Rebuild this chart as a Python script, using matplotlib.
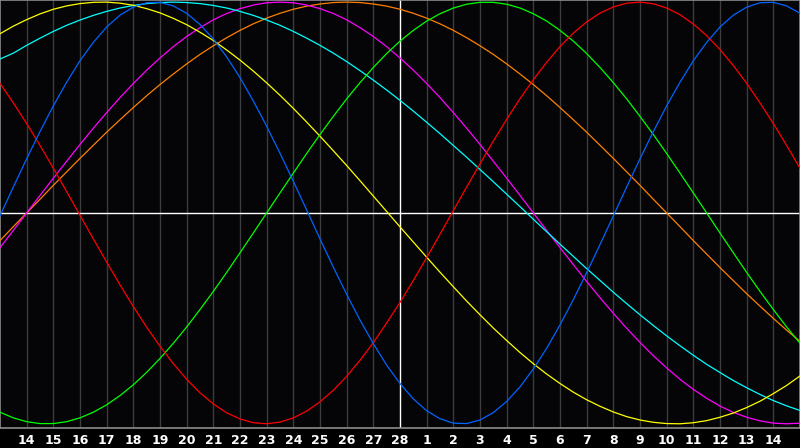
import matplotlib
matplotlib.use("Agg")
import matplotlib.pyplot as plt
import numpy as np

# day labels under the grid (previous month 14..28, then 1..14)
day_labels = [str(d) for d in range(14, 29)] + [str(d) for d in range(1, 15)]
today_label = "28"

# cycle values in percent, every half day (day 13 .. day 15)
physical = [-1.4, 12.3, 25.7, 38.6, 50.8, 62.0, 72.2, 80.9, 88.2, 93.8, 97.6, 99.7,
            99.9, 98.2, 94.7, 89.4, 82.5, 74.0, 64.2, 53.1, 41.1, 28.3, 15.0, 1.4,
            -12.3, -25.7, -38.6, -50.8, -62.0, -72.2, -80.9, -88.2, -93.8, -97.6,
            -99.7, -99.9, -98.2, -94.7, -89.4, -82.5, -74.0, -64.2, -53.1, -41.1,
            -28.3, -15.0, -1.4, 12.3, 25.7, 38.6, 50.8, 62.0, 72.2, 80.9, 88.2,
            93.8, 97.6, 99.7, 99.9, 98.2, 94.7]
emotional = [61.5, 52.2, 42.4, 32.0, 21.2, 10.1, -1.1, -12.3, -23.3, -34.1, -44.4,
             -54.2, -63.2, -71.5, -78.9, -85.3, -90.6, -94.8, -97.7, -99.5, -100.0,
             -99.2, -97.2, -94.0, -89.6, -84.1, -77.5, -69.9, -61.5, -52.2, -42.4,
             -32.0, -21.2, -10.1, 1.1, 12.3, 23.3, 34.1, 44.4, 54.2, 63.2, 71.5,
             78.9, 85.3, 90.6, 94.8, 97.7, 99.5, 100.0, 99.2, 97.2, 94.0, 89.6,
             84.1, 77.5, 69.9, 61.5, 52.2, 42.4, 32.0, 21.2]
intellectual = [-94.5, -97.2, -99.0, -99.9, -99.9, -99.0, -97.2, -94.5, -91.0, -86.6,
                -81.5, -75.6, -69.0, -61.8, -54.1, -45.8, -37.2, -28.2, -18.9, -9.5,
                0.0, 9.5, 18.9, 28.2, 37.2, 45.8, 54.1, 61.8, 69.0, 75.6, 81.5, 86.6,
                91.0, 94.5, 97.2, 99.0, 99.9, 99.9, 99.0, 97.2, 94.5, 91.0, 86.6,
                81.5, 75.6, 69.0, 61.8, 54.1, 45.8, 37.2, 28.2, 18.9, 9.5, 0.0, -9.5,
                -18.9, -28.2, -37.2, -45.8, -54.1, -61.8]
intuitive = [-16.5, -8.3, 0.0, 8.3, 16.5, 24.5, 32.5, 40.2, 47.6, 54.7, 61.4, 67.7,
             73.5, 78.9, 83.7, 87.9, 91.6, 94.6, 96.9, 98.6, 99.7, 100.0, 99.7, 98.6,
             96.9, 94.6, 91.6, 87.9, 83.7, 78.9, 73.5, 67.7, 61.4, 54.7, 47.6, 40.2,
             32.5, 24.5, 16.5, 8.3, 0.0, -8.3, -16.5, -24.5, -32.5, -40.2, -47.6,
             -54.7, -61.4, -67.7, -73.5, -78.9, -83.7, -87.9, -91.6, -94.6, -96.9,
             -98.6, -99.7, -100.0, -99.7]
aesthetic = [85.0, 88.6, 91.7, 94.4, 96.6, 98.2, 99.3, 99.9, 100.0, 99.5, 98.5, 96.9,
             94.9, 92.3, 89.3, 85.7, 81.8, 77.3, 72.5, 67.3, 61.7, 55.8, 49.6, 43.1,
             36.4, 29.5, 22.5, 15.3, 8.0, 0.7, -6.6, -13.8, -21.0, -28.1, -35.0,
             -41.8, -48.3, -54.6, -60.5, -66.2, -71.5, -76.4, -80.9, -85.0, -88.6,
             -91.7, -94.4, -96.6, -98.2, -99.3, -99.9, -100.0, -99.5, -98.5, -96.9,
             -94.9, -92.3, -89.3, -85.7, -81.8, -77.3]
awareness = [-13.1, -6.5, 0.0, 6.5, 13.1, 19.5, 25.9, 32.1, 38.3, 44.2, 50.0, 55.6,
             60.9, 65.9, 70.7, 75.2, 79.3, 83.1, 86.6, 89.7, 92.4, 94.7, 96.6, 98.1,
             99.1, 99.8, 100.0, 99.8, 99.1, 98.1, 96.6, 94.7, 92.4, 89.7, 86.6, 83.1,
             79.3, 75.2, 70.7, 65.9, 60.9, 55.6, 50.0, 44.2, 38.3, 32.1, 25.9, 19.5,
             13.1, 6.5, 0.0, -6.5, -13.1, -19.5, -25.9, -32.1, -38.3, -44.2, -50.0,
             -55.6, -60.9]
spiritual = [73.0, 75.8, 79.5, 82.9, 86.1, 89.0, 91.5, 93.7, 95.6, 97.2, 98.4, 99.3,
             99.8, 100.0, 99.8, 99.3, 98.4, 97.2, 95.6, 93.7, 91.5, 89.0, 86.1, 82.9,
             79.5, 75.8, 71.8, 67.5, 63.0, 58.3, 53.4, 48.3, 43.0, 37.6, 32.0, 26.4,
             20.6, 14.8, 8.9, 3.0, -3.0, -8.9, -14.8, -20.6, -26.4, -32.0, -37.6,
             -43.0, -48.3, -53.4, -58.3, -63.0, -67.5, -71.8, -75.7, -79.5, -82.9,
             -86.1, -89.0, -91.5, -93.7]

series = [
    (awareness, "#ff8000"),
    (intuitive, "#ff00ff"),
    (spiritual, "#00ffff"),
    (aesthetic, "#ffff00"),
    (intellectual, "#00ff00"),
    (emotional, "#ff0000"),
    (physical, "#0064ff"),
]

days = np.arange(len(physical)) / 2.0
tick_pos = np.arange(1, len(day_labels) + 1)
today_pos = tick_pos[day_labels.index(today_label)]

fig = plt.figure(figsize=(8, 4.48), dpi=100, facecolor="#000000")
ax = fig.add_axes([0, 20 / 448, 1, 428 / 448])
ax.set_facecolor("#050508")

for p in tick_pos:
    if p != today_pos:
        ax.axvline(p, color="#3c3c3c", lw=1.0, zorder=1)
ax.axvline(today_pos, color="white", lw=1.0, zorder=2)
ax.axhline(0, color="white", lw=1.0, zorder=2)

for vals, col in series:
    ax.plot(days, vals, color=col, lw=0.9, zorder=3)

ax.set_xlim(days[0], days[-1])
ax.set_ylim(-102, 101)
ax.set_yticks([])
ax.set_xticks(tick_pos)
ax.set_xticklabels(day_labels)
ax.tick_params(axis="x", length=0, pad=4, labelsize=9, labelcolor="white")
for lab in ax.get_xticklabels():
    lab.set_fontweight("bold")
for s in ax.spines.values():
    s.set_color("#8c8c8c")
    s.set_linewidth(1.2)

fig.savefig("out.png", dpi=100, facecolor=fig.get_facecolor())
